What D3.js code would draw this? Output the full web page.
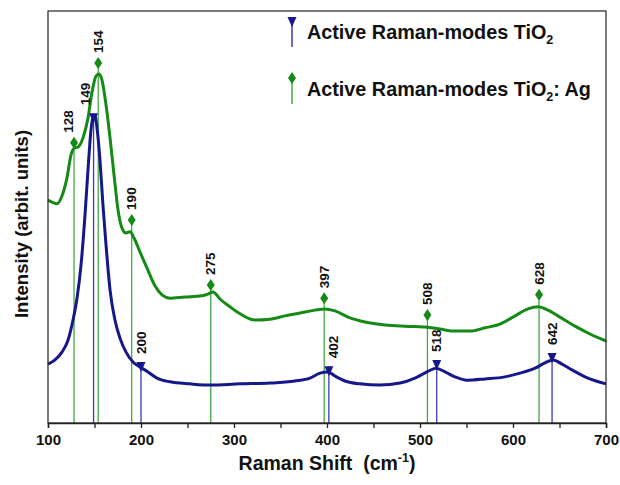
<!DOCTYPE html>
<html>
<head>
<meta charset="utf-8">
<script src="https://cdn.jsdelivr.net/npm/d3@7/dist/d3.min.js"></script>
<style>
  html, body { margin: 0; padding: 0; background: #fff; }
  svg { display: block; font-family: "Liberation Sans", Arial, sans-serif; }
</style>
</head>
<body>
<svg id="chart" width="620" height="485"></svg>
<script>
// Raman spectra, intensity in arbitrary units (0-100 scale)
const shiftTiO2 = [100,107.5,115,121.5,126.9,131.2,135.5,139.8,143,146.2,148.4,150.5,152.7,155.9,159.1,162.4,166.7,172,177.4,183.9,191.4,198.9,207.5,217.2,231.2,252.7,274.2,306.5,338.7,365.6,381.7,392.5,401.1,408.6,419.4,435.5,457,478.5,494.6,507.5,517.2,526.9,537.6,550.5,569.9,591.4,607.5,623.7,634.4,643,652.7,663.4,677.4,689.2,700];
const intensityTiO2 = [14.3,15.3,17.2,20.1,25.0,30.3,38.3,50.5,61.4,71.1,74.3,74.5,71.6,63.8,52.9,43.2,32.3,25.0,20.6,17.2,14.8,13.6,12.4,10.9,10.0,9.5,9.2,9.5,9.7,10.2,10.9,12.1,12.4,11.4,10.2,9.5,9.2,9.7,10.9,12.4,13.3,12.4,11.2,10.4,10.7,11.2,12.1,13.3,14.6,15.3,14.3,12.9,11.2,10.2,9.5];

const shiftTiO2Ag = [100,104.3,109.7,115,120.4,124.7,128,132.3,137.6,143,147.3,151.6,154.8,158,162.4,166.7,171,175.3,179.6,183.9,188.2,192.5,198.9,206.5,215,222.6,231.2,247.3,263.4,272,277.4,284.9,295.7,306.5,322.6,338.7,354.8,371,387.1,397.8,408.6,424.7,440.9,462.4,483.9,505.4,521.5,537.6,553.8,569.9,586,602.2,616.1,626.9,637.6,650.5,666.7,682.8,700];
const intensityTiO2Ag = [54.1,53.6,53.2,55.1,59.5,65.0,66.7,67.0,69.2,74.0,80.3,84.2,84.7,83.3,77.2,69.2,60.2,51.7,47.3,46.1,46.4,44.9,41.5,37.6,33.3,31.1,30.3,30.6,30.8,31.3,31.8,30.1,28.2,26.5,25.0,25.2,26.0,26.7,27.4,27.7,27.2,25.5,24.5,23.8,23.5,23.3,22.8,22.3,22.3,23.1,24.0,26.0,27.7,28.2,27.4,25.7,23.5,21.6,19.9];

// Active Raman modes (cm^-1) and the height of each mode marker
const modesTiO2 = [149, 200, 402, 518, 642];
const modeMarkTiO2 = [75.2, 14.8, 13.8, 15.3, 17.0];
const modesTiO2Ag = [128, 154, 190, 275, 397, 508, 628];
const modeMarkTiO2Ag = [68.0, 87.4, 49.3, 33.5, 30.3, 26.2, 31.1];

const xTicks = [100, 200, 300, 400, 500, 600, 700];

const blue = "#17178c", blueThin = "#3a3ab4";
const green = "#168a16", greenThin = "#45a845";

const svg = d3.select("#chart");
const m = { left: 48, right: 14, top: 11, bottom: 62 };
const W = 620, H = 485;
const x = d3.scaleLinear().domain([100, 700]).range([m.left, W - m.right]);
const y = d3.scaleLinear().domain([0, 100]).range([H - m.bottom, m.top]);

// small sideways nudges for crowded peak labels
const labelNudge = { 128: -6, 149: -8, 402: 4 };

// drop lines for the modes (drawn under the spectra)
function dropLines(modes, marks, color) {
  svg.append("g").selectAll("line").data(modes).join("line")
    .attr("x1", d => x(d)).attr("x2", d => x(d))
    .attr("y1", (d, i) => y(marks[i])).attr("y2", y(0))
    .attr("stroke", color).attr("stroke-width", 1.3);
}
dropLines(modesTiO2Ag, modeMarkTiO2Ag, greenThin);
dropLines(modesTiO2, modeMarkTiO2, blueThin);

const line = d3.line().curve(d3.curveMonotoneX).x(d => x(d[0])).y(d => y(d[1]));
svg.append("path").datum(d3.zip(shiftTiO2Ag, intensityTiO2Ag))
  .attr("d", line).attr("fill", "none").attr("stroke", green)
  .attr("stroke-width", 3).attr("stroke-linejoin", "round");
svg.append("path").datum(d3.zip(shiftTiO2, intensityTiO2))
  .attr("d", line).attr("fill", "none").attr("stroke", blue)
  .attr("stroke-width", 3).attr("stroke-linejoin", "round");

// markers
const diamond = "M0,-6L4,0L0,6L-4,0Z";
const triangle = "M-4.5,0L4.5,0L0,10Z";
svg.append("g").selectAll("path").data(modesTiO2Ag).join("path")
  .attr("d", diamond).attr("fill", green)
  .attr("transform", (d, i) => `translate(${x(d)},${y(modeMarkTiO2Ag[i])})`);
svg.append("g").selectAll("path").data(modesTiO2).join("path")
  .attr("d", triangle).attr("fill", blue)
  .attr("transform", (d, i) => `translate(${x(d)},${y(modeMarkTiO2[i])})`);

// peak labels, rotated
function peakLabels(modes, marks, gap) {
  svg.append("g").selectAll("text").data(modes).join("text")
    .attr("transform", (d, i) =>
      `translate(${x(d) + (labelNudge[d] || 0)},${y(marks[i]) - gap}) rotate(-90)`)
    .attr("dy", "0.35em")
    .attr("font-size", 13.5).attr("font-weight", "bold").attr("fill", "#111")
    .text(d => d);
}
peakLabels(modesTiO2Ag, modeMarkTiO2Ag, 10);
peakLabels(modesTiO2, modeMarkTiO2, 8);

// frame
svg.append("rect").attr("x", m.left).attr("y", m.top)
  .attr("width", W - m.left - m.right).attr("height", H - m.top - m.bottom)
  .attr("fill", "none").attr("stroke", "#222").attr("stroke-width", 1.2);

// x axis
const xAxis = svg.append("g").attr("transform", `translate(0,${y(0)})`)
  .call(d3.axisBottom(x).ticks(12).tickSize(5).tickFormat(d => xTicks.includes(d) ? d : ""));
xAxis.select(".domain").attr("stroke", "#222").attr("stroke-width", 1.5);
xAxis.selectAll(".tick line").attr("stroke", "#222").attr("stroke-width", 1.3);
xAxis.selectAll(".tick text").attr("font-size", 15).attr("font-weight", "bold")
  .attr("font-family", "Liberation Sans, Arial, sans-serif").attr("fill", "#111").attr("dy", "0.95em");

// axis titles
const xt = svg.append("text").attr("x", (x(100) + x(700)) / 2).attr("y", 470)
  .attr("text-anchor", "middle").attr("font-size", 19.5).attr("font-weight", "bold").attr("fill", "#111");
xt.append("tspan").text("Raman Shift\u00a0\u00a0(cm");
xt.append("tspan").attr("font-size", 12.5).attr("dy", -8).text("-1");
xt.append("tspan").attr("dy", 8).text(")");

svg.append("text").attr("transform", "translate(28,224) rotate(-90)")
  .attr("text-anchor", "middle").attr("font-size", 18.5).attr("font-weight", "bold").attr("fill", "#111")
  .text("Intensity (arbit. units)");

// legend
const legend = [
  { label: ["Active Raman-modes TiO", "2", ""], color: blue, thin: blueThin, shape: triangle, y: 39 },
  { label: ["Active Raman-modes TiO", "2", ": Ag"], color: green, thin: greenThin, shape: diamond, y: 96 }
];
legend.forEach((l, i) => {
  const g = svg.append("g");
  const mx = 292;
  const top = i === 0 ? 17 : 78;
  g.append("line").attr("x1", mx).attr("x2", mx).attr("y1", top).attr("y2", top + (i === 0 ? 30 : 26))
    .attr("stroke", l.thin).attr("stroke-width", 1.5);
  g.append("path").attr("d", l.shape).attr("fill", l.color).attr("transform", `translate(${mx},${top})`);
  const t = g.append("text").attr("x", 307).attr("y", l.y)
    .attr("font-size", 19.8).attr("font-weight", "bold").attr("fill", "#111");
  t.append("tspan").text(l.label[0]);
  t.append("tspan").attr("font-size", 12.5).attr("dy", 5).text(l.label[1]);
  if (l.label[2]) t.append("tspan").attr("dy", -5).text(l.label[2]);
});
</script>
</body>
</html>
